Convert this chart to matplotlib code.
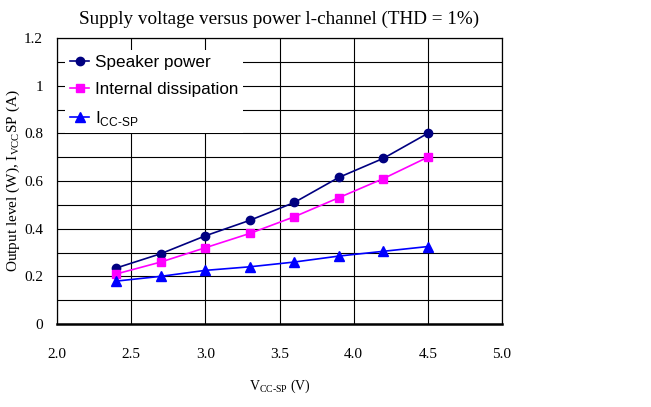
import matplotlib.pyplot as plt
from matplotlib.ticker import MultipleLocator

# --------------------------------------------------------
#  Data
# --------------------------------------------------------
vcc = [2.4, 2.7, 3.0, 3.3, 3.6, 3.9, 4.2, 4.5]
speaker_power = [0.235, 0.295, 0.37, 0.435, 0.51, 0.615, 0.695, 0.80]
internal_dissipation = [0.21, 0.26, 0.32, 0.38, 0.45, 0.53, 0.61, 0.70]
icc_sp = [0.18, 0.20, 0.225, 0.24, 0.26, 0.285, 0.305, 0.325]

x_ticks = [2.0, 2.5, 3.0, 3.5, 4.0, 4.5, 5.0]
y_ticks = [0, 0.2, 0.4, 0.6, 0.8, 1.0, 1.2]
y_tick_labels = ["0", "0.2", "0.4", "0.6", "0.8", "1", "1.2"]

SERIF = "Liberation Serif"
SANS = "Liberation Sans"

fig = plt.figure(figsize=(6.51, 4.07), dpi=100)
ax = fig.add_axes([57 / 651, 83 / 407, 445 / 651, 286 / 407])

ax.plot(vcc, speaker_power, color="#000080", marker="o", markersize=6,
        linewidth=1.2, label="Speaker power")
ax.plot(vcc, internal_dissipation, color="#FF00FF", marker="s", markersize=6,
        linewidth=1.2, label="Internal dissipation")
ax.plot(vcc, icc_sp, color="#0000FF", marker="^", markersize=7,
        linewidth=1.2, label="I$_{\\mathregular{CC\u2010SP}}$")

ax.set_xlim(2.0, 5.0)
ax.set_ylim(0, 1.2)
ax.set_xticks(x_ticks)
ax.set_xticklabels([f"{v:.1f}" for v in x_ticks])
ax.set_yticks(y_ticks)
ax.set_yticklabels(y_tick_labels)
ax.yaxis.set_minor_locator(MultipleLocator(0.1))

ax.grid(True, which="both", axis="y", color="black", linewidth=0.8)
ax.grid(True, which="major", axis="x", color="black", linewidth=0.8)
ax.set_axisbelow(True)
ax.tick_params(which="both", length=0)
ax.tick_params(axis="x", pad=17)
ax.tick_params(axis="y", pad=10)
for lbl in ax.get_xticklabels() + ax.get_yticklabels():
    lbl.set_fontfamily(SERIF)
    lbl.set_fontsize(11)

for side in ["left", "right", "top"]:
    ax.spines[side].set_linewidth(0.9)
ax.spines["bottom"].set_linewidth(1.8)

ax.set_title("Supply voltage versus power l-channel (THD = 1%)",
             fontfamily=SERIF, fontsize=13.8, pad=10)
ax.set_xlabel("V$_{\\mathregular{CC\u2010SP}}$ (V)", fontfamily=SERIF,
              fontsize=10, labelpad=12)
ax.set_ylabel("Output level (W), I$_{\\mathregular{VCC}}$SP (A)",
              fontfamily=SERIF, fontsize=11)
# label anchor is its right edge (rotation_mode="anchor")
ax.yaxis.set_label_coords(-(57 - 22) / 445, 0.5)

leg = ax.legend(loc="upper left", bbox_to_anchor=(0.018, 0.957),
                prop={"family": SANS, "size": 12.3},
                frameon=True, fancybox=False, edgecolor="none",
                facecolor="white", framealpha=1, handlelength=1.1,
                handletextpad=0.35, labelspacing=0.7, borderaxespad=0,
                borderpad=0.3)

fig.savefig("out.png", dpi=100)
